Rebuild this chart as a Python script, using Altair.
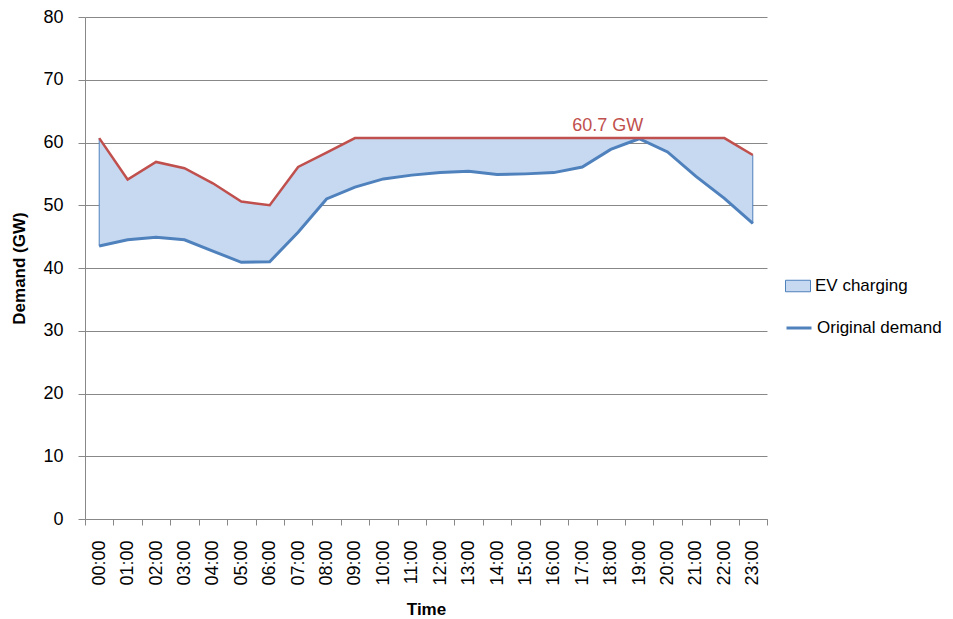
import altair as alt
import pandas as pd

hours = ["00:00", "01:00", "02:00", "03:00", "04:00", "05:00", "06:00", "07:00",
         "08:00", "09:00", "10:00", "11:00", "12:00", "13:00", "14:00", "15:00",
         "16:00", "17:00", "18:00", "19:00", "20:00", "21:00", "22:00", "23:00"]
original_demand = [43.5, 44.5, 44.9, 44.5, 42.7, 40.9, 41.0, 45.7,
                   51.0, 52.9, 54.2, 54.8, 55.2, 55.4, 54.9, 55.0,
                   55.2, 56.1, 58.9, 60.6, 58.5, 54.6, 51.1, 47.1]
with_ev_demand = [60.7, 54.1, 56.9, 55.9, 53.5, 50.6, 50.0, 56.1,
                  58.4, 60.7, 60.7, 60.7, 60.7, 60.7, 60.7, 60.7,
                  60.7, 60.7, 60.7, 60.7, 60.7, 60.7, 60.7, 58.0]
series_names = ["EV charging", "Original demand"]
peak_time = ["18:00"]
peak_value = [60.7]
peak_label = ["60.7 GW"]
y_ticks = [0, 10, 20, 30, 40, 50, 60, 70, 80]

RED = "#C0504D"
BLUE = "#4F81BD"
FILL = "#C6D9F1"
GRID = "#888888"
FONT = "Liberation Sans"

df = pd.DataFrame({
    "time": hours,
    "original": original_demand,
    "total": with_ev_demand,
    "ev": series_names[0],
    "orig": series_names[1],
})
peak_df = pd.DataFrame({"time": peak_time, "value": peak_value, "label": peak_label})

x_axis = alt.Axis(title="Time", labelAngle=270, labelAlign="right", labelBaseline="middle",
                  tickBand="extent", tickSize=6, labelPadding=15, titlePadding=16,
                  grid=False)
x_enc = alt.X("time:O", sort=hours, bandPosition=0.5,
              scale=alt.Scale(type="band", paddingInner=0, paddingOuter=0),
              axis=x_axis)
y_axis = alt.Axis(title="Demand (GW)", values=y_ticks, tickSize=7, labelPadding=15,
                  titlePadding=14, grid=True)
y_scale = alt.Scale(domain=[0, 80], nice=False)

area = alt.Chart(df).mark_area(stroke=BLUE, strokeWidth=1, opacity=1).encode(
    x=x_enc,
    y=alt.Y("original:Q", scale=y_scale, axis=y_axis),
    y2="total:Q",
    fill=alt.Fill("ev:N", scale=alt.Scale(domain=[series_names[0]], range=[FILL]),
                  legend=alt.Legend(orient="none", legendX=700, legendY=256, title=None,
                                    symbolType="M-1,-0.46H1V0.46H-1Z", symbolSize=625,
                                    symbolStrokeColor=BLUE, symbolStrokeWidth=1,
                                    symbolOpacity=1, padding=0, labelOffset=4)),
)

blue = alt.Chart(df).mark_line(strokeWidth=3).encode(
    x=x_enc,
    y=alt.Y("original:Q", scale=y_scale, axis=y_axis),
    stroke=alt.Stroke("orig:N", scale=alt.Scale(domain=[series_names[1]], range=[BLUE]),
                      legend=alt.Legend(orient="none", legendX=700, legendY=297, title=None,
                                        symbolType="stroke", symbolSize=625,
                                        symbolStrokeWidth=3, padding=0, labelOffset=4)),
)

red = alt.Chart(df).mark_line(strokeWidth=2.5, color=RED).encode(
    x=x_enc,
    y=alt.Y("total:Q", scale=y_scale, axis=y_axis),
)

label = alt.Chart(peak_df).mark_text(color=RED, fontSize=18, font=FONT, dx=-3, dy=-7,
                                     baseline="alphabetic").encode(
    x=x_enc,
    y=alt.Y("value:Q", scale=y_scale, axis=y_axis),
    text="label:N",
)

chart = alt.layer(area, blue, red, label).properties(
    width=682, height=502,
    autosize=alt.AutoSizeParams(type="none"),
    padding={"left": 77, "top": 9, "right": 178, "bottom": 100},
).configure_view(stroke=None).configure_axis(
    labelFont=FONT, labelFontSize=18, labelColor="#000000",
    titleFont=FONT, titleFontSize=17, titleFontWeight="bold", titleColor="#000000",
    domainColor=GRID, tickColor=GRID, gridColor=GRID, domainWidth=1, gridWidth=1,
).configure_legend(
    labelFont=FONT, labelFontSize=17, labelColor="#000000", labelLimit=400,
)

chart.save("out.html", embed_options={"renderer": "svg", "actions": False})
